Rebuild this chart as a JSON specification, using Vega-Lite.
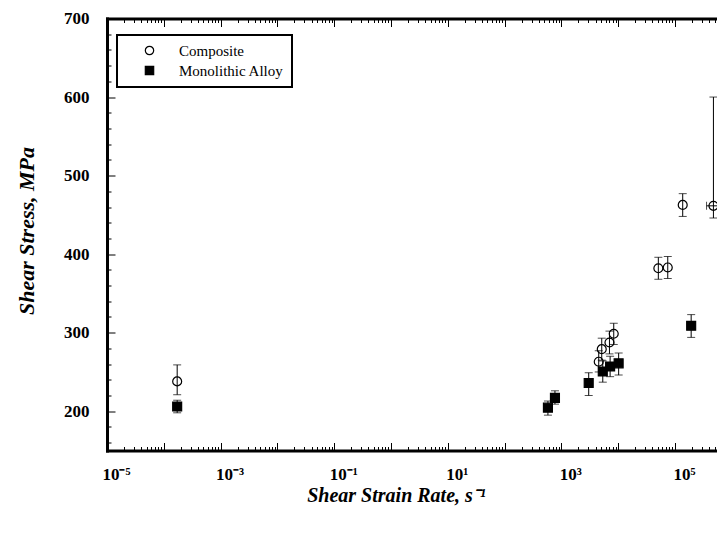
{
  "$schema": "https://vega.github.io/schema/vega-lite/v6.json",
  "width": 610,
  "height": 432,
  "autosize": {"type": "none"},
  "padding": {"left": 107, "top": 18.5, "right": 0, "bottom": 84.5},
  "background": "white",
  "view": {"stroke": null},
  "config": {"legend": {"strokeWidth": 2}},
  "data": {
    "values": [
      {"series": "Composite", "rate": 0.000172, "stress": 238, "lo": 221, "hi": 259},
      {"series": "Composite", "rate": 4550, "stress": 263, "lo": 250, "hi": 277},
      {"series": "Composite", "rate": 5140, "stress": 279, "lo": 265, "hi": 293},
      {"series": "Composite", "rate": 7030, "stress": 287.5, "lo": 273, "hi": 302},
      {"series": "Composite", "rate": 8360, "stress": 298.6, "lo": 285, "hi": 312},
      {"series": "Composite", "rate": 51000, "stress": 382, "lo": 368, "hi": 396},
      {"series": "Composite", "rate": 74700, "stress": 383, "lo": 369, "hi": 397},
      {"series": "Composite", "rate": 137000, "stress": 462.7, "lo": 448, "hi": 477},
      {"series": "Composite", "rate": 476000, "stress": 461.5, "lo": 446, "hi": 600, "xlo": 360000, "xhi": 550000},
      {"series": "Monolithic Alloy", "rate": 0.000172, "stress": 206, "lo": 198, "hi": 214},
      {"series": "Monolithic Alloy", "rate": 580, "stress": 204.5, "lo": 195, "hi": 213},
      {"series": "Monolithic Alloy", "rate": 771, "stress": 217, "lo": 209, "hi": 226},
      {"series": "Monolithic Alloy", "rate": 3030, "stress": 236, "lo": 220, "hi": 249},
      {"series": "Monolithic Alloy", "rate": 5360, "stress": 250.6, "lo": 237, "hi": 264},
      {"series": "Monolithic Alloy", "rate": 7220, "stress": 257, "lo": 244, "hi": 270},
      {"series": "Monolithic Alloy", "rate": 10200, "stress": 261, "lo": 246, "hi": 274},
      {"series": "Monolithic Alloy", "rate": 193000, "stress": 308.8, "lo": 294, "hi": 323}
    ]
  },
  "resolve": {"axis": {"x": "independent", "y": "independent"}},
  "layer": [
    {
      "mark": {"type": "rule", "color": "black", "strokeWidth": 1},
      "encoding": {
        "x": {
          "field": "rate", "type": "quantitative",
          "scale": {"type": "log", "domain": [0.00001, 550000], "nice": false},
          "axis": {
            "orient": "bottom",
            "values": [0.00001,0.00002,0.00003,0.00004,0.00005,0.00006,0.00007,0.00008,0.00009,
                       0.0001,0.0002,0.0003,0.0004,0.0005,0.0006,0.0007,0.0008,0.0009,
                       0.001,0.002,0.003,0.004,0.005,0.006,0.007,0.008,0.009,
                       0.01,0.02,0.03,0.04,0.05,0.06,0.07,0.08,0.09,
                       0.1,0.2,0.3,0.4,0.5,0.6,0.7,0.8,0.9,
                       1,2,3,4,5,6,7,8,9,
                       10,20,30,40,50,60,70,80,90,
                       100,200,300,400,500,600,700,800,900,
                       1000,2000,3000,4000,5000,6000,7000,8000,9000,
                       10000,20000,30000,40000,50000,60000,70000,80000,90000,
                       100000,200000,300000,400000,500000],
            "labelExpr": "datum.value == 0.00001 ? '10⁻⁵' : datum.value == 0.001 ? '10⁻³' : datum.value == 0.1 ? '10⁻¹' : datum.value == 10 ? '10¹' : datum.value == 1000 ? '10³' : datum.value == 100000 ? '10⁵' : ''",
            "labelOverlap": false,
            "labelFlush": false,
            "labelFont": "Liberation Serif",
            "labelFontWeight": "bold",
            "labelFontSize": 17,
            "labelColor": "black",
            "labelPadding": 24,
            "labelOffset": 9,
            "tickColor": "black",
            "tickWidth": 1,
            "tickSize": {"condition": {"test": "abs(log(datum.value)/LN10 - round(log(datum.value)/LN10)) < 0.01", "value": -8}, "value": -4},
            "domain": true, "domainColor": "black", "domainWidth": 3, "domainCap": "square",
            "grid": false,
            "title": "Shear Strain Rate, s⁻¹",
            "titleFont": "Liberation Serif",
            "titleFontWeight": "bold",
            "titleFontStyle": "italic",
            "titleFontSize": 20,
            "titleColor": "black",
            "titleX": 289,
            "titleY": 51,
            "titleAlign": "center",
            "titleBaseline": "alphabetic"
          }
        },
        "y": {
          "field": "lo", "type": "quantitative",
          "scale": {"domain": [150, 700], "nice": false, "zero": false},
          "axis": {
            "orient": "left",
            "values": [160,180,200,220,240,260,280,300,320,340,360,380,400,420,440,460,480,500,520,540,560,580,600,620,640,660,680,700],
            "labelExpr": "datum.value % 100 == 0 ? datum.label : ''",
            "labelOverlap": false,
            "labelFlush": false,
            "labelFont": "Liberation Serif",
            "labelFontWeight": "bold",
            "labelFontSize": 17,
            "labelColor": "black",
            "labelPadding": 26,
            "tickColor": "black",
            "tickWidth": 1,
            "tickSize": {"condition": {"test": "datum.value % 100 == 0", "value": -8}, "value": -4},
            "domain": true, "domainColor": "black", "domainWidth": 3, "domainCap": "square",
            "grid": false,
            "title": "Shear Stress, MPa",
            "titleFont": "Liberation Serif",
            "titleFontWeight": "bold",
            "titleFontStyle": "italic",
            "titleFontSize": 22,
            "titleColor": "black",
            "titleX": -74,
            "titleY": 212,
            "titleAlign": "center",
            "titleBaseline": "alphabetic"
          }
        },
        "y2": {"field": "hi"}
      }
    },
    {
      "mark": {"type": "tick", "orient": "horizontal", "color": "black", "size": 8, "thickness": 1},
      "encoding": {
        "x": {"field": "rate", "type": "quantitative", "axis": null},
        "y": {"field": "lo", "type": "quantitative", "axis": null}
      }
    },
    {
      "mark": {"type": "tick", "orient": "horizontal", "color": "black", "size": 8, "thickness": 1},
      "encoding": {
        "x": {"field": "rate", "type": "quantitative", "axis": null},
        "y": {"field": "hi", "type": "quantitative", "axis": null}
      }
    },
    {
      "transform": [{"filter": "datum.xlo != null"}],
      "mark": {"type": "rule", "color": "black", "strokeWidth": 1},
      "encoding": {
        "x": {"field": "xlo", "type": "quantitative", "axis": null},
        "x2": {"field": "xhi"},
        "y": {"field": "stress", "type": "quantitative", "axis": null}
      }
    },
    {
      "transform": [{"filter": "datum.xlo != null"}],
      "mark": {"type": "tick", "orient": "vertical", "color": "black", "size": 8, "thickness": 1},
      "encoding": {
        "x": {"field": "xlo", "type": "quantitative", "axis": null},
        "y": {"field": "stress", "type": "quantitative", "axis": null}
      }
    },
    {
      "mark": {"type": "point", "strokeWidth": 1.2, "opacity": 1, "fillOpacity": 1, "size": 80},
      "encoding": {
        "x": {
          "field": "rate", "type": "quantitative",
          "axis": {
            "orient": "top",
            "values": [0.00001,0.00002,0.00003,0.00004,0.00005,0.00006,0.00007,0.00008,0.00009,
                       0.0001,0.0002,0.0003,0.0004,0.0005,0.0006,0.0007,0.0008,0.0009,
                       0.001,0.002,0.003,0.004,0.005,0.006,0.007,0.008,0.009,
                       0.01,0.02,0.03,0.04,0.05,0.06,0.07,0.08,0.09,
                       0.1,0.2,0.3,0.4,0.5,0.6,0.7,0.8,0.9,
                       1,2,3,4,5,6,7,8,9,
                       10,20,30,40,50,60,70,80,90,
                       100,200,300,400,500,600,700,800,900,
                       1000,2000,3000,4000,5000,6000,7000,8000,9000,
                       10000,20000,30000,40000,50000,60000,70000,80000,90000,
                       100000,200000,300000,400000,500000],
            "labels": false,
            "tickColor": "black",
            "tickWidth": 1,
            "tickSize": {"condition": {"test": "abs(log(datum.value)/LN10 - round(log(datum.value)/LN10)) < 0.01", "value": -8}, "value": -4},
            "domain": true, "domainColor": "black", "domainWidth": 3, "domainCap": "square",
            "grid": false,
            "title": null
          }
        },
        "y": {"field": "stress", "type": "quantitative", "axis": null},
        "shape": {
          "field": "series", "type": "nominal",
          "scale": {"domain": ["Composite", "Monolithic Alloy"], "range": ["circle", "square"]},
          "legend": {
            "title": null,
            "orient": "none",
            "legendX": 10,
            "legendY": 16.5,
            "strokeColor": "black",
            "fillColor": "white",
            "padding": 8,
            "symbolOffset": 17,
            "labelOffset": 22,
            "rowPadding": 4,
            "symbolSize": 70,
            "symbolStrokeWidth": 1.2,
            "labelFont": "Liberation Serif",
            "labelFontSize": 15,
            "labelColor": "black"
          }
        },
        "fill": {
          "field": "series", "type": "nominal",
          "scale": {"domain": ["Composite", "Monolithic Alloy"], "range": ["transparent", "black"]}
        },
        "stroke": {
          "field": "series", "type": "nominal",
          "scale": {"domain": ["Composite", "Monolithic Alloy"], "range": ["black", "black"]}
        }
      }
    }
  ]
}
